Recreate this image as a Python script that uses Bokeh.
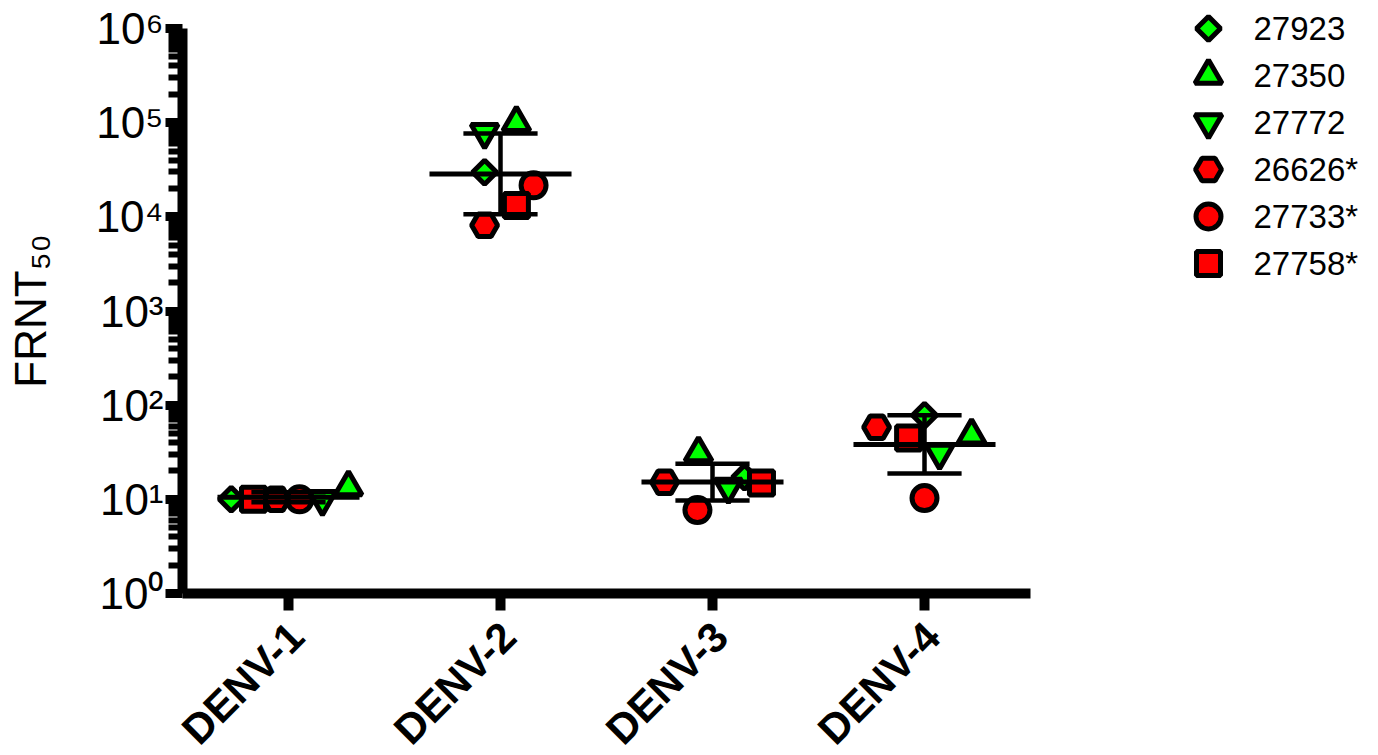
import numpy as np
from math import pi
from bokeh.plotting import figure
from bokeh.layouts import row
from bokeh.models import Range1d, FixedTicker, ColumnDataSource, LinearAxis
from bokeh.core.properties import value
from bokeh.embed import file_html
from bokeh.resources import INLINE

# ---------------- data ----------------
categories = ["DENV-1", "DENV-2", "DENV-3", "DENV-4"]
series_names = ["27923", "27350", "27772", "26626*", "27733*", "27758*"]

# FRNT50 of each serum against DENV-1..4
v_27923 = [10.0, 29700, 17.2, 78.3]
v_27350 = [13.5, 100000, 31.0, 48.1]
v_27772 = [10.0, 78900, 13.5, 31.0]
v_26626 = [10.0, 8130, 15.2, 58.4]
v_27733 = [10.0, 21600, 7.7, 10.3]
v_27758 = [10.0, 13200, 14.9, 44.7]

# horizontal scatter (jitter) of each point inside its column, category units
j_27923 = [-0.27, -0.075, 0.151, 0.0]
j_27350 = [0.283, 0.075, -0.066, 0.222]
j_27772 = [0.16, -0.075, 0.075, 0.071]
j_26626 = [-0.057, -0.075, -0.226, -0.226]
j_27733 = [0.052, 0.156, -0.071, 0.0]
j_27758 = [-0.165, 0.075, 0.231, -0.075]

y_tick_values = [1, 10, 100, 1000, 10000, 100000, 1000000]
y_tick_labels = ["10\u2070", "10\u00b9", "10\u00b2", "10\u00b3", "10\u2074", "10\u2075", "10\u2076"]
y_title = "FRNT\u2085\u2080"

series_values = [v_27923, v_27350, v_27772, v_26626, v_27733, v_27758]
series_jitter = [j_27923, j_27350, j_27772, j_26626, j_27733, j_27758]

# ---------------- styles / layout (pixels) ----------------
GREEN = "#00FF00"
RED = "#FF0000"
FONT = "Liberation Sans"
styles = [
    dict(marker="square", size=17, angle=pi / 4, fill_color=GREEN),
    dict(marker="triangle", size=27, angle=0, fill_color=GREEN),
    dict(marker="inverted_triangle", size=27, angle=0, fill_color=GREEN),
    dict(marker="hex", size=26, angle=0, fill_color=RED),
    dict(marker="circle", size=25, angle=0, fill_color=RED),
    dict(marker="square", size=24, angle=0, fill_color=RED),
]

W_MAIN, H = 1038, 755
AX_LEFT, AX_RIGHT = 182, 1030      # pixel x of the plotting area edges
AX_TOP, AX_BOTTOM = 28, 593        # pixel y of 10^6 and 10^0
XLABEL_SHIFT_PX = 8                # rotated category labels sit a little right of the tick

x_lo, x_hi = 0.5, len(categories) + 0.5
px_per_cat = (AX_RIGHT - AX_LEFT) / (x_hi - x_lo)
y_lo, y_hi = y_tick_values[0], y_tick_values[-1]
decades = np.log10(y_hi / y_lo)
px_per_dec = (AX_BOTTOM - AX_TOP) / decades

x_range = Range1d(x_lo - AX_LEFT / px_per_cat, x_hi + (W_MAIN - AX_RIGHT) / px_per_cat)
y_range = Range1d(y_lo * 10 ** (-(H - AX_BOTTOM) / px_per_dec),
                  y_hi * 10 ** (AX_TOP / px_per_dec))

# ---------------- main figure ----------------
p = figure(width=W_MAIN, height=H, y_axis_type="log",
           x_range=x_range, y_range=y_range,
           output_backend="svg", toolbar_location=None, min_border=0)
p.outline_line_color = None
p.xgrid.visible = False
p.ygrid.visible = False
p.background_fill_color = "white"

cat_pos = np.arange(1, len(categories) + 1)

for vals, jit, st in zip(series_values, series_jitter, styles):
    src = ColumnDataSource(dict(x=cat_pos + np.array(jit), y=vals))
    p.scatter("x", "y", source=src, marker=st["marker"], size=st["size"],
              angle=st["angle"], fill_color=st["fill_color"],
              line_color="black", line_width=5)

# geometric mean +/- geometric SD per column
logs = np.log10(np.array(series_values))          # (series, category)
gm = logs.mean(axis=0)
sd = logs.std(axis=0, ddof=1)
mean_v = 10 ** gm
up_v = 10 ** (gm + sd)
lo_v = 10 ** (gm - sd)

MEAN_HALF = 0.335
CAP_HALF = 0.175
p.segment(x0=cat_pos - MEAN_HALF, x1=cat_pos + MEAN_HALF, y0=mean_v, y1=mean_v,
          line_color="black", line_width=5)
p.segment(x0=cat_pos, x1=cat_pos, y0=lo_v, y1=up_v, line_color="black", line_width=4.5)
p.segment(x0=cat_pos - CAP_HALF, x1=cat_pos + CAP_HALF, y0=up_v, y1=up_v,
          line_color="black", line_width=4.5)
p.segment(x0=cat_pos - CAP_HALF, x1=cat_pos + CAP_HALF, y0=lo_v, y1=lo_v,
          line_color="black", line_width=4.5)

# ---------------- axes (drawn at the data edges) ----------------
xa = p.xaxis[0]
xa.fixed_location = y_lo
xa.bounds = (x_lo, x_hi)
xa.ticker = FixedTicker(ticks=list(cat_pos))
xa.major_label_overrides = {int(c): "" for c in cat_pos}
xa.axis_line_width = 10
xa.axis_line_color = "black"
xa.major_tick_line_width = 10
xa.major_tick_line_color = "black"
xa.major_tick_out = 17
xa.major_tick_in = 0
xa.minor_tick_out = 0
xa.minor_tick_in = 0

# category labels (second axis without line / ticks)
label_pos = [float(c + XLABEL_SHIFT_PX / px_per_cat) for c in cat_pos]
xl = LinearAxis(fixed_location=y_lo, ticker=FixedTicker(ticks=label_pos),
                major_label_overrides={lp: name for lp, name in zip(label_pos, categories)},
                axis_line_color=None, major_tick_line_color=None,
                minor_tick_line_color=None, major_tick_out=0, major_tick_in=0,
                minor_tick_out=0, minor_tick_in=0,
                major_label_orientation=pi / 4, major_label_standoff=36,
                major_label_text_font=FONT, major_label_text_font_style="bold",
                major_label_text_font_size="42px", major_label_text_color="black")
p.add_layout(xl, "below")

minor = [m * t for t in y_tick_values[:-1] for m in range(2, 10)]
ya = p.yaxis[0]
ya.fixed_location = x_lo
ya.bounds = (y_lo, y_hi)
ya.ticker = FixedTicker(ticks=y_tick_values, minor_ticks=minor)
ya.major_label_overrides = {int(t): lab for t, lab in zip(y_tick_values, y_tick_labels)}
ya.major_label_text_font = FONT
ya.major_label_text_font_size = "44px"
ya.major_label_text_color = "black"
ya.major_label_standoff = 2
ya.axis_line_width = 10
ya.axis_line_color = "black"
ya.major_tick_line_width = 9
ya.major_tick_line_color = "black"
ya.major_tick_out = 17
ya.major_tick_in = 0
ya.minor_tick_line_width = 6
ya.minor_tick_line_color = "black"
ya.minor_tick_out = 14
ya.minor_tick_in = 0
ya.axis_label = y_title
ya.axis_label_text_font = FONT
ya.axis_label_text_font_style = "normal"
ya.axis_label_text_font_size = "44px"
ya.axis_label_text_color = "black"
ya.axis_label_standoff = 38

# ---------------- legend figure ----------------
ROW_PX = 47
FIRST_ROW_PX = 28
W_LEG = 1378 - W_MAIN
LEG_MARK_X = 170
leg = figure(width=W_LEG, height=H,
             x_range=Range1d(-LEG_MARK_X, W_LEG - LEG_MARK_X),
             y_range=Range1d((H - FIRST_ROW_PX) / ROW_PX, -FIRST_ROW_PX / ROW_PX),
             output_backend="svg", toolbar_location=None, min_border=0,
             x_axis_location=None, y_axis_location=None)
leg.outline_line_color = None
leg.xgrid.visible = False
leg.ygrid.visible = False

for i, (name, st) in enumerate(zip(series_names, styles)):
    leg.scatter([0], [i], marker=st["marker"], size=st["size"], angle=st["angle"],
                fill_color=st["fill_color"], line_color="black", line_width=5)
leg.text(x=[0] * len(series_names), y=list(range(len(series_names))), text=series_names,
         x_offset=45, text_baseline="middle", text_align="left",
         text_font=value(FONT), text_font_size="33px", text_color="black")

layout = row(p, leg)
open("out.html", "w").write(file_html(layout, INLINE))
